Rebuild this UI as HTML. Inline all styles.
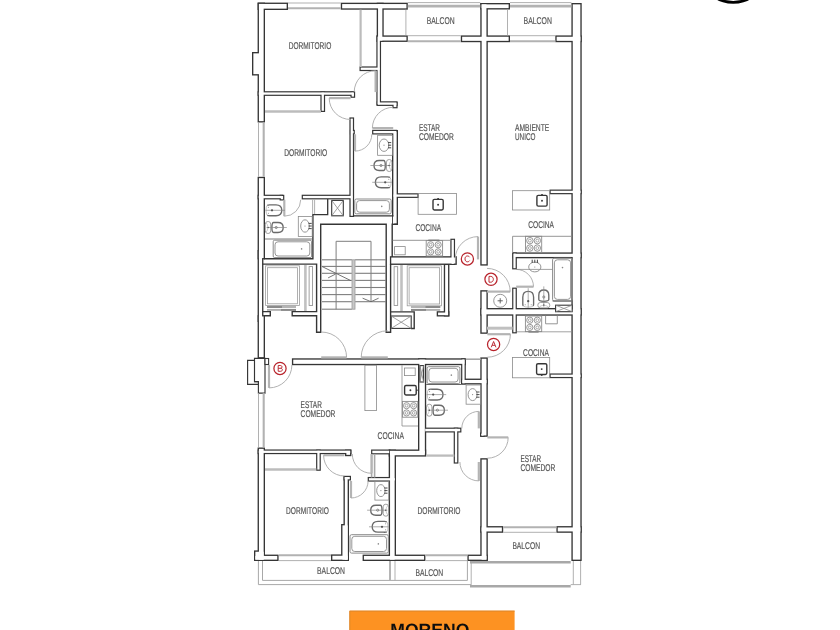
<!DOCTYPE html>
<html><head><meta charset="utf-8"><title>Plano</title>
<style>
html,body{margin:0;padding:0;background:#fff;}
body{width:840px;height:630px;overflow:hidden;font-family:"Liberation Sans",sans-serif;}
svg{display:block;}
svg text{text-rendering:geometricPrecision;}
</style></head><body>
<svg width="840" height="630" viewBox="0 0 840 630" font-family="'Liberation Sans', sans-serif">
<defs><filter id="soft" x="0" y="0" width="840" height="630" filterUnits="userSpaceOnUse"><feGaussianBlur stdDeviation="0.38"/></filter></defs>
<rect width="840" height="630" fill="#fff"/>
<g filter="url(#soft)">
<rect x="-10" y="-10" width="860" height="650" fill="#fff"/>

<g fill="#363636"><rect x="257.6" y="2.6" width="7.4" height="119.9"/><rect x="257.6" y="2.6" width="30.4" height="7.4"/><rect x="252" y="52" width="10" height="23.5"/><rect x="340.8" y="2.7" width="67" height="7"/><rect x="376.7" y="2.7" width="7" height="39.2"/><rect x="376.35" y="35.4" width="4.7" height="70.1"/><rect x="376.7" y="35.4" width="31.1" height="6.5"/><rect x="359.5" y="66.4" width="21.2" height="4.7"/><rect x="376.7" y="101.25" width="20.9" height="4.7"/><rect x="392.4" y="102" width="5.2" height="6.3"/><rect x="257.6" y="91.2" width="97.2" height="4.7"/><rect x="350.45" y="91.5" width="4.7" height="6.3"/><rect x="320.4" y="91.5" width="4.7" height="20.5"/><rect x="480.3" y="3" width="7.5" height="262.6"/><rect x="480.3" y="3" width="29.7" height="6.5"/><rect x="460.8" y="35.4" width="49.2" height="6.8"/><rect x="571.4" y="3" width="10.3" height="558"/><rect x="555.3" y="35.4" width="26.4" height="6.8"/><rect x="549.5" y="189.55" width="32.2" height="4.7"/><rect x="549.5" y="373.45" width="32.2" height="4.7"/><rect x="257.6" y="176.8" width="7.4" height="82.6"/><rect x="257.6" y="250" width="5.8" height="72"/><rect x="257.6" y="315.1" width="7.4" height="43.4"/><rect x="349.4" y="117.4" width="4.7" height="99.6"/><rect x="349.9" y="129.8" width="4.9" height="4.7"/><rect x="257.6" y="194.7" width="25.6" height="4.7"/><rect x="279.6" y="194.8" width="4.7" height="5.7"/><rect x="301.7" y="194.7" width="51.9" height="4.7"/><rect x="372.1" y="129.8" width="25.1" height="4.7"/><rect x="392" y="130" width="6" height="95"/><rect x="392.4" y="193.25" width="26.2" height="4.7"/><rect x="291.9" y="358.3" width="173.9" height="6.9"/><rect x="461.1" y="358.3" width="4.7" height="26.2"/><rect x="461.1" y="378.6" width="26.7" height="5.9"/><rect x="257.6" y="447.5" width="7.4" height="113.5"/><rect x="254" y="550.4" width="11" height="10.6"/><rect x="254" y="554.6" width="24.6" height="6.4"/><rect x="257.6" y="449.45" width="93.8" height="4.7"/><rect x="345" y="449.6" width="6.4" height="6.6"/><rect x="316.1" y="449.6" width="4.7" height="21.2"/><rect x="331" y="554.4" width="18" height="6.6"/><rect x="343.5" y="476" width="5.5" height="85"/><rect x="341.1" y="524" width="7.9" height="37"/><rect x="343.5" y="475.8" width="7.5" height="4.7"/><rect x="362.6" y="554.6" width="62.8" height="6.4"/><rect x="367.7" y="476.95" width="28.3" height="4.7"/><rect x="388.7" y="449.6" width="7.3" height="111.4"/><rect x="371.1" y="449.5" width="19.3" height="4.9"/><rect x="388.7" y="449.5" width="37.5" height="7.1"/><rect x="418" y="358.3" width="8.2" height="96.7"/><rect x="424" y="427.6" width="37.4" height="4.9"/><rect x="453.7" y="427.6" width="4.7" height="36"/><rect x="480.3" y="290.2" width="7.5" height="43.6"/><rect x="480.3" y="357.4" width="7.5" height="79.4"/><rect x="480.05" y="432.5" width="4.7" height="4.3"/><rect x="480.3" y="458.2" width="7.5" height="102.8"/><rect x="467.4" y="554.6" width="20.4" height="6.4"/><rect x="512.6" y="252.4" width="69.1" height="5.9"/><rect x="512.15" y="252.4" width="4.7" height="17"/><rect x="512.15" y="287.6" width="4.7" height="45.8"/><rect x="480.3" y="308" width="101.4" height="7.7"/><rect x="480.3" y="526.1" width="22.9" height="6.7"/><rect x="556.4" y="526.1" width="25.3" height="6.7"/><rect x="450.35" y="238.7" width="4.7" height="26.2"/><rect x="389.9" y="256.2" width="65" height="8.7"/><rect x="450.5" y="256.2" width="6.3" height="8.7"/><rect x="443.8" y="263.7" width="5.6" height="52.8"/><rect x="436.7" y="311.2" width="12.7" height="5.3"/></g>
<g fill="#fff"><rect x="258.95" y="3.95" width="4.7" height="117.2"/><rect x="258.95" y="3.95" width="27.7" height="4.7"/><rect x="253.35" y="53.35" width="7.3" height="20.8"/><rect x="342.15" y="4.05" width="64.3" height="4.3"/><rect x="378.05" y="4.05" width="4.3" height="36.5"/><rect x="377.55" y="36.6" width="2.3" height="67.7"/><rect x="378.05" y="36.75" width="28.4" height="3.8"/><rect x="360.7" y="67.6" width="18.8" height="2.3"/><rect x="377.9" y="102.45" width="18.5" height="2.3"/><rect x="393.6" y="103.2" width="2.8" height="3.9"/><rect x="258.8" y="92.4" width="94.8" height="2.3"/><rect x="351.65" y="92.7" width="2.3" height="3.9"/><rect x="321.6" y="92.7" width="2.3" height="18.1"/><rect x="481.65" y="4.35" width="4.8" height="259.9"/><rect x="481.65" y="4.35" width="27" height="3.8"/><rect x="462.15" y="36.75" width="46.5" height="4.1"/><rect x="572.75" y="4.35" width="7.6" height="555.3"/><rect x="556.65" y="36.75" width="23.7" height="4.1"/><rect x="550.7" y="190.75" width="29.8" height="2.3"/><rect x="550.7" y="374.65" width="29.8" height="2.3"/><rect x="258.95" y="178.15" width="4.7" height="79.9"/><rect x="258.95" y="251.35" width="3.1" height="69.3"/><rect x="258.95" y="316.45" width="4.7" height="40.7"/><rect x="350.6" y="118.6" width="2.3" height="97.2"/><rect x="351.1" y="131" width="2.5" height="2.3"/><rect x="258.8" y="195.9" width="23.2" height="2.3"/><rect x="280.8" y="196" width="2.3" height="3.3"/><rect x="302.9" y="195.9" width="49.5" height="2.3"/><rect x="373.3" y="131" width="22.7" height="2.3"/><rect x="393.35" y="131.35" width="3.3" height="92.3"/><rect x="393.6" y="194.45" width="23.8" height="2.3"/><rect x="293.25" y="359.65" width="171.2" height="4.2"/><rect x="462.3" y="359.5" width="2.3" height="23.8"/><rect x="462.45" y="379.95" width="24" height="3.2"/><rect x="258.95" y="448.85" width="4.7" height="110.8"/><rect x="255.35" y="551.75" width="8.3" height="7.9"/><rect x="255.35" y="555.95" width="21.9" height="3.7"/><rect x="258.8" y="450.65" width="91.4" height="2.3"/><rect x="346.35" y="450.95" width="3.7" height="3.9"/><rect x="317.3" y="450.8" width="2.3" height="18.8"/><rect x="332.35" y="555.75" width="15.3" height="3.9"/><rect x="344.85" y="477.35" width="2.8" height="82.3"/><rect x="342.45" y="525.35" width="5.2" height="34.3"/><rect x="344.7" y="477" width="5.1" height="2.3"/><rect x="363.95" y="555.95" width="60.1" height="3.7"/><rect x="368.9" y="478.15" width="25.9" height="2.3"/><rect x="390.05" y="450.95" width="4.6" height="108.7"/><rect x="372.3" y="450.7" width="16.9" height="2.5"/><rect x="390.05" y="450.85" width="34.8" height="4.4"/><rect x="419.35" y="359.65" width="5.5" height="94"/><rect x="425.2" y="428.8" width="35" height="2.5"/><rect x="454.9" y="428.8" width="2.3" height="33.6"/><rect x="481.65" y="291.55" width="4.8" height="40.9"/><rect x="481.65" y="358.75" width="4.8" height="76.7"/><rect x="481.25" y="433.7" width="2.3" height="1.9"/><rect x="481.65" y="459.55" width="4.8" height="100.1"/><rect x="468.75" y="555.95" width="17.7" height="3.7"/><rect x="513.95" y="253.75" width="66.4" height="3.2"/><rect x="513.35" y="253.6" width="2.3" height="14.6"/><rect x="513.35" y="288.8" width="2.3" height="43.4"/><rect x="481.65" y="309.35" width="98.7" height="5"/><rect x="481.65" y="527.45" width="20.2" height="4"/><rect x="557.75" y="527.45" width="22.6" height="4"/><rect x="451.55" y="239.9" width="2.3" height="23.8"/><rect x="391.25" y="257.55" width="62.3" height="6"/><rect x="451.85" y="257.55" width="3.6" height="6"/><rect x="445.15" y="265.05" width="2.9" height="50.1"/><rect x="438.05" y="312.55" width="10" height="2.6"/></g>
<polygon points="247.6,360.4 254.8,360.4 254.8,381.7 258.6,381.7 258.6,384.4 247.6,384.4" fill="#fff" stroke="#363636" stroke-width="1.15"/><polygon points="254.5,358.3 265,358.3 265,393.1 258.4,393.1 258.4,381.6 254.5,381.6" fill="#fff" stroke="#363636" stroke-width="1.15"/><rect x="265" y="358.5" width="3.6" height="6" rx="0" fill="#fff" stroke="#363636" stroke-width="1.1"/><path d="M312.9 214.6 V258.8 H264.2" fill="none" stroke="#363636" stroke-width="1.4"/><path d="M262.6 264.1 H316.6 V311.6 H292.2 V315.7 H316.6 V332.2 H320.7 V224.3 H386.2 V332.2 H390.6 V264" fill="none" stroke="#363636" stroke-width="1.4"/><path d="M392.2 257 V224.3 H397.3" fill="none" stroke="#363636" stroke-width="1.4"/><path d="M262.6 311.6 H270.3 V315.7 H264.4" fill="none" stroke="#363636" stroke-width="1.4"/><path d="M390.6 311.9 H414.2 V328.5 H411" fill="none" stroke="#363636" stroke-width="1.4"/><rect x="349.4" y="610.7" width="165.2" height="30" fill="#fd9222"/><path d="M349.8 632 V611.1 H514.6" fill="none" stroke="#d9862e" stroke-width="0.9"/><text x="390.3" y="635.7" textLength="79" lengthAdjust="spacingAndGlyphs" font-size="17.9" font-weight="bold" fill="#111">MORENO</text><circle cx="733.2" cy="-31.7" r="34.1" fill="none" stroke="#000" stroke-width="2.7"/><line x1="288" y1="3" x2="340.8" y2="3" stroke="#a8a8a8" stroke-width="0.9"/><line x1="288" y1="8.2" x2="340.8" y2="8.2" stroke="#b2b2b2" stroke-width="2.1"/><line x1="407.8" y1="2.6" x2="480.3" y2="2.6" stroke="#a8a8a8" stroke-width="0.9"/><line x1="407.8" y1="6.1" x2="480.3" y2="6.1" stroke="#b2b2b2" stroke-width="2.6"/><line x1="510" y1="2.6" x2="571.4" y2="2.6" stroke="#a8a8a8" stroke-width="0.9"/><line x1="510" y1="6.1" x2="571.4" y2="6.1" stroke="#b2b2b2" stroke-width="2.6"/><line x1="407.8" y1="35.7" x2="460.8" y2="35.7" stroke="#a8a8a8" stroke-width="0.9"/><line x1="407.8" y1="41.2" x2="460.8" y2="41.2" stroke="#b2b2b2" stroke-width="2.1"/><line x1="510" y1="35.7" x2="555.3" y2="35.7" stroke="#a8a8a8" stroke-width="0.9"/><line x1="510" y1="41.2" x2="555.3" y2="41.2" stroke="#b2b2b2" stroke-width="2.1"/><line x1="405.9" y1="9.7" x2="405.9" y2="35.4" stroke="#a8a8a8" stroke-width="0.9"/><line x1="507.5" y1="9.5" x2="507.5" y2="35.4" stroke="#a8a8a8" stroke-width="0.9"/><line x1="258.5" y1="122.5" x2="258.5" y2="176.8" stroke="#a8a8a8" stroke-width="0.9"/><line x1="263.7" y1="122.5" x2="263.7" y2="176.8" stroke="#b2b2b2" stroke-width="2.1"/><line x1="258.5" y1="393.1" x2="258.5" y2="447.5" stroke="#a8a8a8" stroke-width="0.9"/><line x1="263.7" y1="393.1" x2="263.7" y2="447.5" stroke="#b2b2b2" stroke-width="2.1"/><line x1="279" y1="560.6" x2="331" y2="560.6" stroke="#a8a8a8" stroke-width="0.9"/><line x1="279" y1="555.3" x2="331" y2="555.3" stroke="#b2b2b2" stroke-width="2.1"/><line x1="425.4" y1="560.6" x2="467.4" y2="560.6" stroke="#a8a8a8" stroke-width="0.9"/><line x1="425.4" y1="555.3" x2="467.4" y2="555.3" stroke="#b2b2b2" stroke-width="2.1"/><line x1="503.2" y1="532.3" x2="556.4" y2="532.3" stroke="#a8a8a8" stroke-width="0.9"/><line x1="503.2" y1="527.2" x2="556.4" y2="527.2" stroke="#b2b2b2" stroke-width="2.1"/><line x1="371.6" y1="454.4" x2="371.6" y2="477.5" stroke="#a8a8a8" stroke-width="1.6"/><line x1="374.6" y1="454.4" x2="374.6" y2="477.5" stroke="#a8a8a8" stroke-width="1.6"/><line x1="360.6" y1="9.7" x2="360.6" y2="67" stroke="#bcbcbc" stroke-width="2.2"/><line x1="265" y1="111.5" x2="321" y2="111.5" stroke="#bcbcbc" stroke-width="2.3"/><line x1="265" y1="469.5" x2="316.3" y2="469.5" stroke="#bcbcbc" stroke-width="2.3"/><line x1="426.2" y1="455.6" x2="454.3" y2="455.6" stroke="#bcbcbc" stroke-width="2.3"/><path d="M258.4 561 V584.6 H471" fill="none" stroke="#a8a8a8" stroke-width="1"/><path d="M262.5 561 V580.4 H467.4 V561" fill="none" stroke="#a8a8a8" stroke-width="1"/><line x1="390" y1="561" x2="390" y2="580.4" stroke="#b2b2b2" stroke-width="1.9"/><line x1="395" y1="561" x2="395" y2="580.4" stroke="#a8a8a8" stroke-width="0.9"/><line x1="470" y1="562.3" x2="570.7" y2="562.3" stroke="#a8a8a8" stroke-width="2.4"/><line x1="470" y1="586.3" x2="570.7" y2="586.3" stroke="#a8a8a8" stroke-width="2.4"/><line x1="471.2" y1="563" x2="471.2" y2="586" stroke="#a8a8a8" stroke-width="0.9"/><line x1="573.3" y1="561" x2="573.3" y2="584.6" stroke="#a8a8a8" stroke-width="0.9"/><line x1="580.6" y1="561" x2="580.6" y2="584.6" stroke="#a8a8a8" stroke-width="0.9"/><line x1="570.7" y1="584.6" x2="581" y2="584.6" stroke="#a8a8a8" stroke-width="0.9"/><line x1="375.6" y1="92.1" x2="375.6" y2="70.7" stroke="#b4b4b4" stroke-width="2.2"/><path d="M375.6 70.7 A21.4 21.4 0 0 0 354.2 92.1" fill="none" stroke="#a8a8a8" stroke-width="0.9"/><line x1="350.6" y1="98.1" x2="329.2" y2="98.1" stroke="#b4b4b4" stroke-width="2.2"/><path d="M329.2 98.1 A21.4 21.4 0 0 0 350.6 119.5" fill="none" stroke="#a8a8a8" stroke-width="0.9"/><line x1="393.2" y1="128.1" x2="372.4" y2="128.1" stroke="#b4b4b4" stroke-width="2.2"/><path d="M372.4 128.1 A20.8 20.8 0 0 1 393.2 107.3" fill="none" stroke="#a8a8a8" stroke-width="0.9"/><line x1="355" y1="134.3" x2="355" y2="151.1" stroke="#b4b4b4" stroke-width="2.2"/><path d="M355 151.1 A16.8 16.8 0 0 0 371.8 134.3" fill="none" stroke="#a8a8a8" stroke-width="0.9"/><line x1="284.3" y1="199.8" x2="284.3" y2="216.2" stroke="#b4b4b4" stroke-width="2.2"/><path d="M284.3 216.2 A16.4 16.4 0 0 0 300.7 199.8" fill="none" stroke="#a8a8a8" stroke-width="0.9"/><line x1="321.2" y1="357.4" x2="346.6" y2="357.4" stroke="#b4b4b4" stroke-width="2.2"/><path d="M346.6 357.4 A25.4 25.4 0 0 0 321.2 332" fill="none" stroke="#a8a8a8" stroke-width="0.9"/><line x1="387.8" y1="357.4" x2="361.2" y2="357.4" stroke="#b4b4b4" stroke-width="2.2"/><path d="M361.2 357.4 A26.6 26.6 0 0 1 387.8 330.8" fill="none" stroke="#a8a8a8" stroke-width="0.9"/><line x1="478" y1="259.4" x2="478" y2="236.6" stroke="#b4b4b4" stroke-width="2.2"/><path d="M478 236.6 A22.8 22.8 0 0 0 455.2 259.4" fill="none" stroke="#a8a8a8" stroke-width="0.9"/><line x1="487" y1="291.6" x2="510.2" y2="291.6" stroke="#b4b4b4" stroke-width="2.2"/><path d="M510.2 291.6 A23.2 23.2 0 0 0 487 268.4" fill="none" stroke="#a8a8a8" stroke-width="0.9"/><line x1="516.2" y1="286.7" x2="533.5" y2="286.7" stroke="#b4b4b4" stroke-width="2.2"/><path d="M533.5 286.7 A17.3 17.3 0 0 0 516.2 269.4" fill="none" stroke="#a8a8a8" stroke-width="0.9"/><line x1="487.4" y1="334.2" x2="510.4" y2="334.2" stroke="#b4b4b4" stroke-width="2.2"/><path d="M510.4 334.2 A23 23 0 0 1 487.4 357.2" fill="none" stroke="#a8a8a8" stroke-width="0.9"/><line x1="269" y1="365" x2="269" y2="387.9" stroke="#b4b4b4" stroke-width="2.2"/><path d="M269 387.9 A22.9 22.9 0 0 0 291.9 365" fill="none" stroke="#a8a8a8" stroke-width="0.9"/><line x1="344.4" y1="455.2" x2="323.6" y2="455.2" stroke="#b4b4b4" stroke-width="2.2"/><path d="M323.6 455.2 A20.8 20.8 0 0 0 344.4 476" fill="none" stroke="#a8a8a8" stroke-width="0.9"/><line x1="371.6" y1="454" x2="371.6" y2="473.3" stroke="#b4b4b4" stroke-width="2.2"/><path d="M371.6 473.3 A19.3 19.3 0 0 1 352.3 454" fill="none" stroke="#a8a8a8" stroke-width="0.9"/><line x1="351" y1="480.9" x2="351" y2="498" stroke="#b4b4b4" stroke-width="2.2"/><path d="M351 498 A17.1 17.1 0 0 0 368.1 480.9" fill="none" stroke="#a8a8a8" stroke-width="0.9"/><line x1="478.8" y1="428.4" x2="478.8" y2="411.4" stroke="#b4b4b4" stroke-width="2.2"/><path d="M478.8 411.4 A17 17 0 0 0 461.8 428.4" fill="none" stroke="#a8a8a8" stroke-width="0.9"/><line x1="487.4" y1="437.4" x2="508.2" y2="437.4" stroke="#b4b4b4" stroke-width="2.2"/><path d="M508.2 437.4 A20.8 20.8 0 0 1 487.4 458.2" fill="none" stroke="#a8a8a8" stroke-width="0.9"/><line x1="478.8" y1="462" x2="478.8" y2="480.9" stroke="#b4b4b4" stroke-width="2.2"/><path d="M478.8 480.9 A18.9 18.9 0 0 1 459.9 462" fill="none" stroke="#a8a8a8" stroke-width="0.9"/><line x1="322" y1="259.8" x2="351.9" y2="259.8" stroke="#7e7e7e" stroke-width="1.1"/><line x1="322" y1="266.4" x2="351.9" y2="266.4" stroke="#7e7e7e" stroke-width="1.1"/><line x1="322" y1="273.3" x2="351.9" y2="273.3" stroke="#7e7e7e" stroke-width="1.1"/><line x1="322" y1="280.4" x2="351.9" y2="280.4" stroke="#7e7e7e" stroke-width="1.1"/><line x1="322" y1="287.5" x2="351.9" y2="287.5" stroke="#7e7e7e" stroke-width="1.1"/><line x1="322" y1="294.6" x2="351.9" y2="294.6" stroke="#7e7e7e" stroke-width="1.1"/><line x1="322" y1="301.7" x2="351.9" y2="301.7" stroke="#7e7e7e" stroke-width="1.1"/><line x1="322" y1="309.2" x2="351.9" y2="309.2" stroke="#7e7e7e" stroke-width="1.1"/><line x1="355.1" y1="259.8" x2="386" y2="259.8" stroke="#7e7e7e" stroke-width="1.1"/><line x1="355.1" y1="266.4" x2="386" y2="266.4" stroke="#7e7e7e" stroke-width="1.1"/><line x1="355.1" y1="273.3" x2="386" y2="273.3" stroke="#7e7e7e" stroke-width="1.1"/><line x1="355.1" y1="280.4" x2="386" y2="280.4" stroke="#7e7e7e" stroke-width="1.1"/><line x1="355.1" y1="287.5" x2="386" y2="287.5" stroke="#7e7e7e" stroke-width="1.1"/><line x1="355.1" y1="294.6" x2="386" y2="294.6" stroke="#7e7e7e" stroke-width="1.1"/><line x1="355.1" y1="301.7" x2="386" y2="301.7" stroke="#7e7e7e" stroke-width="1.1"/><rect x="352" y="259.8" width="3" height="49.4" rx="0" fill="#c8c8c8" stroke="#9a9a9a" stroke-width="0.8"/><path d="M336.1 309.3 V241.3 H371 V301.5" fill="none" stroke="#7e7e7e" stroke-width="1"/><path d="M362.6 298.2 L371 301.7 L378.6 298.2" fill="none" stroke="#666" stroke-width="0.9"/><line x1="321.8" y1="266.4" x2="351" y2="280.7" stroke="#666" stroke-width="0.9"/><line x1="328.1" y1="277.9" x2="335.7" y2="274" stroke="#666" stroke-width="0.9"/><rect x="265.6" y="265.8" width="33.8" height="39.8" rx="0" fill="none" stroke="#9c9c9c" stroke-width="0.8"/><rect x="267.5" y="267.7" width="30" height="36.1" rx="0" fill="none" stroke="#9c9c9c" stroke-width="0.8"/><line x1="305.4" y1="265" x2="305.4" y2="311" stroke="#c0c0c0" stroke-width="2.6"/><rect x="309.1" y="266.6" width="3.5" height="38.9" rx="0" fill="none" stroke="#8a8a8a" stroke-width="0.8"/><line x1="267" y1="307" x2="296" y2="307" stroke="#b0b0b0" stroke-width="1.9"/><line x1="267" y1="309.9" x2="296" y2="309.9" stroke="#b0b0b0" stroke-width="1.9"/><line x1="267" y1="307" x2="282" y2="307" stroke="#8a8a8a" stroke-width="1.9"/><line x1="281" y1="309.9" x2="296" y2="309.9" stroke="#8a8a8a" stroke-width="1.9"/><rect x="407.2" y="265.8" width="34.3" height="40" rx="0" fill="none" stroke="#9c9c9c" stroke-width="0.8"/><rect x="409.1" y="267.7" width="30.5" height="36.3" rx="0" fill="none" stroke="#9c9c9c" stroke-width="0.8"/><line x1="401.5" y1="265" x2="401.5" y2="311" stroke="#c0c0c0" stroke-width="2.6"/><rect x="394.1" y="266.7" width="3.6" height="38.8" rx="0" fill="none" stroke="#8a8a8a" stroke-width="0.8"/><line x1="411" y1="307" x2="440.2" y2="307" stroke="#b0b0b0" stroke-width="1.9"/><line x1="411" y1="309.9" x2="440.2" y2="309.9" stroke="#b0b0b0" stroke-width="1.9"/><line x1="425.5" y1="307" x2="440.2" y2="307" stroke="#8a8a8a" stroke-width="1.9"/><line x1="411" y1="309.9" x2="426" y2="309.9" stroke="#8a8a8a" stroke-width="1.9"/><line x1="353" y1="215.9" x2="393.4" y2="215.9" stroke="#363636" stroke-width="1.4"/><rect x="392.9" y="216.7" width="1.3" height="6.8" rx="0" fill="#fff" stroke="#fff" stroke-width="0"/><rect x="331.7" y="200.4" width="11.6" height="15.4" rx="0" fill="#fff" stroke="#363636" stroke-width="1.1"/><line x1="331.7" y1="200.4" x2="343.3" y2="215.8" stroke="#8a8a8a" stroke-width="0.8"/><line x1="331.7" y1="215.8" x2="343.3" y2="200.4" stroke="#8a8a8a" stroke-width="0.8"/><path d="M327.7 199 V214.7 H312.4" fill="none" stroke="#363636" stroke-width="1.3"/><line x1="312.6" y1="199.5" x2="312.6" y2="214" stroke="#a8a8a8" stroke-width="0.9"/><line x1="314.6" y1="199.5" x2="314.6" y2="214" stroke="#a8a8a8" stroke-width="0.9"/><rect x="391.2" y="316" width="20" height="12.4" rx="0" fill="#fff" stroke="#363636" stroke-width="1.1"/><line x1="391.2" y1="316" x2="411.2" y2="328.4" stroke="#8a8a8a" stroke-width="0.8"/><line x1="391.2" y1="328.4" x2="411.2" y2="316" stroke="#8a8a8a" stroke-width="0.8"/><rect x="555.6" y="305.2" width="16.6" height="6.5" rx="0" fill="#fff" stroke="#363636" stroke-width="1.1"/><line x1="555.6" y1="305.2" x2="572.2" y2="311.7" stroke="#8a8a8a" stroke-width="0.8"/><line x1="555.6" y1="311.7" x2="572.2" y2="305.2" stroke="#8a8a8a" stroke-width="0.8"/><rect x="419.9" y="365.6" width="3.7" height="16.4" rx="0" fill="#fff" stroke="#363636" stroke-width="1.1"/><line x1="419.9" y1="365.6" x2="423.6" y2="382" stroke="#8a8a8a" stroke-width="0.8"/><line x1="419.9" y1="382" x2="423.6" y2="365.6" stroke="#8a8a8a" stroke-width="0.8"/><rect x="377.6" y="135.3" width="14.8" height="20" rx="0" fill="none" stroke="#8a8a8a" stroke-width="0.8"/><ellipse cx="384" cy="145.2" rx="4.8" ry="6.2" fill="none" stroke="#8a8a8a" stroke-width="0.9"/><circle cx="384" cy="145.2" r="0.6" fill="#8a8a8a"/><line x1="388" y1="142.6" x2="391.2" y2="142.6" stroke="#363636" stroke-width="0.9"/><line x1="388" y1="145.2" x2="391.2" y2="145.2" stroke="#363636" stroke-width="0.9"/><line x1="388" y1="147.8" x2="391.2" y2="147.8" stroke="#363636" stroke-width="0.9"/><g transform="translate(392.2 165.5) rotate(180)"><rect x="0.3" y="-6" width="5.4" height="12" rx="2.6" fill="none" stroke="#8a8a8a" stroke-width="0.8"/><path d="M1 -4.4 C3.4 -3.4 3.4 3.4 1 4.4" fill="none" stroke="#a8a8a8" stroke-width="0.6"/><path d="M8.6 -5 H13 C16.6 -5 18.2 -2.6 18.2 0 C18.2 2.6 16.6 5 13 5 H8.6 C7.2 5 6.9 3 6.9 0 C6.9 -3 7.2 -5 8.6 -5 Z" fill="none" stroke="#6a6a6a" stroke-width="1.35"/><line x1="1.5" y1="0" x2="21.8" y2="0" stroke="#8a8a8a" stroke-width="0.7"/><circle cx="11.2" cy="0" r="1.1" fill="none" stroke="#6a6a6a" stroke-width="0.7"/><circle cx="3.2" cy="0" r="0.7" fill="#555"/></g><g transform="translate(392.2 182.3) rotate(180)"><path d="M2.2 -5 C3.4 -5.6 4.4 -5.4 5.6 -5.4 H11 C15 -5.4 16.8 -2.8 16.8 0 C16.8 2.8 15 5.4 11 5.4 H5.6 C4.4 5.4 3.4 5.6 2.2 5" fill="none" stroke="#6a6a6a" stroke-width="1.35"/><path d="M2.2 -5 C0.6 -3 0.6 3 2.2 5" fill="none" stroke="#a8a8a8" stroke-width="0.7"/><line x1="0.5" y1="0" x2="20" y2="0" stroke="#8a8a8a" stroke-width="0.7"/><circle cx="7" cy="0" r="1.15" fill="#555"/><circle cx="3.4" cy="-3" r="0.55" fill="#8a8a8a"/><circle cx="3.4" cy="3" r="0.55" fill="#8a8a8a"/></g><rect x="354.8" y="199" width="36.4" height="14.8" rx="1.5" fill="none" stroke="#8a8a8a" stroke-width="1"/><rect x="356.6" y="200.6" width="32.8" height="11.6" rx="3" fill="none" stroke="#8a8a8a" stroke-width="0.9"/><circle cx="381.74" cy="206.4" r="0.8" fill="#8a8a8a"/><g transform="translate(265 210.3) rotate(0)"><path d="M2.2 -5 C3.4 -5.6 4.4 -5.4 5.6 -5.4 H11 C15 -5.4 16.8 -2.8 16.8 0 C16.8 2.8 15 5.4 11 5.4 H5.6 C4.4 5.4 3.4 5.6 2.2 5" fill="none" stroke="#6a6a6a" stroke-width="1.35"/><path d="M2.2 -5 C0.6 -3 0.6 3 2.2 5" fill="none" stroke="#a8a8a8" stroke-width="0.7"/><line x1="0.5" y1="0" x2="20" y2="0" stroke="#8a8a8a" stroke-width="0.7"/><circle cx="7" cy="0" r="1.15" fill="#555"/><circle cx="3.4" cy="-3" r="0.55" fill="#8a8a8a"/><circle cx="3.4" cy="3" r="0.55" fill="#8a8a8a"/></g><g transform="translate(265 227.5) rotate(0)"><rect x="0.3" y="-6" width="5.4" height="12" rx="2.6" fill="none" stroke="#8a8a8a" stroke-width="0.8"/><path d="M1 -4.4 C3.4 -3.4 3.4 3.4 1 4.4" fill="none" stroke="#a8a8a8" stroke-width="0.6"/><path d="M8.6 -5 H13 C16.6 -5 18.2 -2.6 18.2 0 C18.2 2.6 16.6 5 13 5 H8.6 C7.2 5 6.9 3 6.9 0 C6.9 -3 7.2 -5 8.6 -5 Z" fill="none" stroke="#6a6a6a" stroke-width="1.35"/><line x1="1.5" y1="0" x2="21.8" y2="0" stroke="#8a8a8a" stroke-width="0.7"/><circle cx="11.2" cy="0" r="1.1" fill="none" stroke="#6a6a6a" stroke-width="0.7"/><circle cx="3.2" cy="0" r="0.7" fill="#555"/></g><rect x="298.3" y="216.4" width="13.9" height="20" rx="0" fill="none" stroke="#8a8a8a" stroke-width="0.8"/><ellipse cx="305" cy="226" rx="4.3" ry="6.2" fill="none" stroke="#8a8a8a" stroke-width="0.9"/><circle cx="305" cy="226" r="0.6" fill="#8a8a8a"/><line x1="308.5" y1="223.4" x2="311.7" y2="223.4" stroke="#363636" stroke-width="0.9"/><line x1="308.5" y1="226" x2="311.7" y2="226" stroke="#363636" stroke-width="0.9"/><line x1="308.5" y1="228.6" x2="311.7" y2="228.6" stroke="#363636" stroke-width="0.9"/><line x1="265" y1="239" x2="312" y2="239" stroke="#a8a8a8" stroke-width="1.5"/><rect x="273.2" y="240.2" width="38.4" height="17.4" rx="1.5" fill="none" stroke="#8a8a8a" stroke-width="1"/><rect x="275" y="241.8" width="34.8" height="14.2" rx="3" fill="none" stroke="#8a8a8a" stroke-width="0.9"/><circle cx="301.62" cy="248.9" r="0.8" fill="#8a8a8a"/><ellipse cx="534.8" cy="267" rx="6.1" ry="4.9" fill="none" stroke="#8a8a8a" stroke-width="0.9"/><circle cx="534.8" cy="267" r="0.6" fill="#8a8a8a"/><line x1="532.2" y1="262.9" x2="532.2" y2="259.7" stroke="#363636" stroke-width="0.9"/><line x1="534.8" y1="262.9" x2="534.8" y2="259.7" stroke="#363636" stroke-width="0.9"/><line x1="537.4" y1="262.9" x2="537.4" y2="259.7" stroke="#363636" stroke-width="0.9"/><line x1="516.2" y1="269.4" x2="552.6" y2="269.4" stroke="#8a8a8a" stroke-width="0.8"/><rect x="552.6" y="258.2" width="19.8" height="42.8" rx="1.5" fill="none" stroke="#8a8a8a" stroke-width="1"/><rect x="554.4" y="259.8" width="16.2" height="39.6" rx="3" fill="none" stroke="#8a8a8a" stroke-width="0.9"/><circle cx="562.5" cy="267.62" r="0.8" fill="#8a8a8a"/><line x1="552.6" y1="301" x2="572.4" y2="301" stroke="#666" stroke-width="1.1"/><g transform="translate(528.2 308.2) rotate(270)"><path d="M2.2 -5 C3.4 -5.6 4.4 -5.4 5.6 -5.4 H11 C15 -5.4 16.8 -2.8 16.8 0 C16.8 2.8 15 5.4 11 5.4 H5.6 C4.4 5.4 3.4 5.6 2.2 5" fill="none" stroke="#6a6a6a" stroke-width="1.35"/><path d="M2.2 -5 C0.6 -3 0.6 3 2.2 5" fill="none" stroke="#a8a8a8" stroke-width="0.7"/><line x1="0.5" y1="0" x2="20" y2="0" stroke="#8a8a8a" stroke-width="0.7"/><circle cx="7" cy="0" r="1.15" fill="#555"/><circle cx="3.4" cy="-3" r="0.55" fill="#8a8a8a"/><circle cx="3.4" cy="3" r="0.55" fill="#8a8a8a"/></g><g transform="translate(543.8 308.2) rotate(270)"><rect x="0.3" y="-6" width="5.4" height="12" rx="2.6" fill="none" stroke="#8a8a8a" stroke-width="0.8"/><path d="M1 -4.4 C3.4 -3.4 3.4 3.4 1 4.4" fill="none" stroke="#a8a8a8" stroke-width="0.6"/><path d="M8.6 -5 H13 C16.6 -5 18.2 -2.6 18.2 0 C18.2 2.6 16.6 5 13 5 H8.6 C7.2 5 6.9 3 6.9 0 C6.9 -3 7.2 -5 8.6 -5 Z" fill="none" stroke="#6a6a6a" stroke-width="1.35"/><line x1="1.5" y1="0" x2="21.8" y2="0" stroke="#8a8a8a" stroke-width="0.7"/><circle cx="11.2" cy="0" r="1.1" fill="none" stroke="#6a6a6a" stroke-width="0.7"/><circle cx="3.2" cy="0" r="0.7" fill="#555"/></g><line x1="465.8" y1="359.2" x2="480.7" y2="359.2" stroke="#a8a8a8" stroke-width="1.6"/><rect x="427.1" y="366.7" width="32.8" height="16.9" rx="1.5" fill="none" stroke="#8a8a8a" stroke-width="1"/><rect x="428.9" y="368.3" width="29.2" height="13.7" rx="3" fill="none" stroke="#8a8a8a" stroke-width="0.9"/><circle cx="451.37" cy="375.15" r="0.8" fill="#8a8a8a"/><line x1="426.2" y1="384.5" x2="461.1" y2="384.5" stroke="#666" stroke-width="1"/><g transform="translate(426.2 394.6) rotate(0)"><path d="M2.2 -5 C3.4 -5.6 4.4 -5.4 5.6 -5.4 H11 C15 -5.4 16.8 -2.8 16.8 0 C16.8 2.8 15 5.4 11 5.4 H5.6 C4.4 5.4 3.4 5.6 2.2 5" fill="none" stroke="#6a6a6a" stroke-width="1.35"/><path d="M2.2 -5 C0.6 -3 0.6 3 2.2 5" fill="none" stroke="#a8a8a8" stroke-width="0.7"/><line x1="0.5" y1="0" x2="20" y2="0" stroke="#8a8a8a" stroke-width="0.7"/><circle cx="7" cy="0" r="1.15" fill="#555"/><circle cx="3.4" cy="-3" r="0.55" fill="#8a8a8a"/><circle cx="3.4" cy="3" r="0.55" fill="#8a8a8a"/></g><g transform="translate(426.2 410.2) rotate(0)"><rect x="0.3" y="-6" width="5.4" height="12" rx="2.6" fill="none" stroke="#8a8a8a" stroke-width="0.8"/><path d="M1 -4.4 C3.4 -3.4 3.4 3.4 1 4.4" fill="none" stroke="#a8a8a8" stroke-width="0.6"/><path d="M8.6 -5 H13 C16.6 -5 18.2 -2.6 18.2 0 C18.2 2.6 16.6 5 13 5 H8.6 C7.2 5 6.9 3 6.9 0 C6.9 -3 7.2 -5 8.6 -5 Z" fill="none" stroke="#6a6a6a" stroke-width="1.35"/><line x1="1.5" y1="0" x2="21.8" y2="0" stroke="#8a8a8a" stroke-width="0.7"/><circle cx="11.2" cy="0" r="1.1" fill="none" stroke="#6a6a6a" stroke-width="0.7"/><circle cx="3.2" cy="0" r="0.7" fill="#555"/></g><rect x="466.1" y="385" width="14.4" height="19.2" rx="0" fill="none" stroke="#8a8a8a" stroke-width="0.8"/><ellipse cx="472.6" cy="394.6" rx="4.5" ry="6" fill="none" stroke="#8a8a8a" stroke-width="0.9"/><circle cx="472.6" cy="394.6" r="0.6" fill="#8a8a8a"/><line x1="476.3" y1="392" x2="479.5" y2="392" stroke="#363636" stroke-width="0.9"/><line x1="476.3" y1="394.6" x2="479.5" y2="394.6" stroke="#363636" stroke-width="0.9"/><line x1="476.3" y1="397.2" x2="479.5" y2="397.2" stroke="#363636" stroke-width="0.9"/><rect x="374.9" y="481.4" width="14" height="18.7" rx="0" fill="none" stroke="#8a8a8a" stroke-width="0.8"/><ellipse cx="380.9" cy="490.6" rx="4.2" ry="6" fill="none" stroke="#8a8a8a" stroke-width="0.9"/><circle cx="380.9" cy="490.6" r="0.6" fill="#8a8a8a"/><line x1="384.3" y1="488" x2="387.5" y2="488" stroke="#363636" stroke-width="0.9"/><line x1="384.3" y1="490.6" x2="387.5" y2="490.6" stroke="#363636" stroke-width="0.9"/><line x1="384.3" y1="493.2" x2="387.5" y2="493.2" stroke="#363636" stroke-width="0.9"/><g transform="translate(388.9 510.2) rotate(180)"><rect x="0.3" y="-6" width="5.4" height="12" rx="2.6" fill="none" stroke="#8a8a8a" stroke-width="0.8"/><path d="M1 -4.4 C3.4 -3.4 3.4 3.4 1 4.4" fill="none" stroke="#a8a8a8" stroke-width="0.6"/><path d="M8.6 -5 H13 C16.6 -5 18.2 -2.6 18.2 0 C18.2 2.6 16.6 5 13 5 H8.6 C7.2 5 6.9 3 6.9 0 C6.9 -3 7.2 -5 8.6 -5 Z" fill="none" stroke="#6a6a6a" stroke-width="1.35"/><line x1="1.5" y1="0" x2="21.8" y2="0" stroke="#8a8a8a" stroke-width="0.7"/><circle cx="11.2" cy="0" r="1.1" fill="none" stroke="#6a6a6a" stroke-width="0.7"/><circle cx="3.2" cy="0" r="0.7" fill="#555"/></g><g transform="translate(389 526.8) rotate(180)"><path d="M2.2 -5 C3.4 -5.6 4.4 -5.4 5.6 -5.4 H11 C15 -5.4 16.8 -2.8 16.8 0 C16.8 2.8 15 5.4 11 5.4 H5.6 C4.4 5.4 3.4 5.6 2.2 5" fill="none" stroke="#6a6a6a" stroke-width="1.35"/><path d="M2.2 -5 C0.6 -3 0.6 3 2.2 5" fill="none" stroke="#a8a8a8" stroke-width="0.7"/><line x1="0.5" y1="0" x2="20" y2="0" stroke="#8a8a8a" stroke-width="0.7"/><circle cx="7" cy="0" r="1.15" fill="#555"/><circle cx="3.4" cy="-3" r="0.55" fill="#8a8a8a"/><circle cx="3.4" cy="3" r="0.55" fill="#8a8a8a"/></g><rect x="350" y="534.7" width="38.3" height="18.4" rx="1.5" fill="none" stroke="#8a8a8a" stroke-width="1"/><rect x="351.8" y="536.3" width="34.7" height="15.2" rx="3" fill="none" stroke="#8a8a8a" stroke-width="0.9"/><circle cx="378.34" cy="543.9" r="0.8" fill="#8a8a8a"/><circle cx="500.2" cy="300.8" r="6.5" fill="none" stroke="#8a8a8a" stroke-width="0.9"/><line x1="497.6" y1="300.8" x2="502.8" y2="300.8" stroke="#555" stroke-width="0.9"/><line x1="500.2" y1="298.2" x2="500.2" y2="303.4" stroke="#555" stroke-width="0.9"/><line x1="487" y1="328.2" x2="512.6" y2="328.2" stroke="#c0c0c0" stroke-width="3"/><rect x="418.1" y="193.5" width="38.4" height="20.8" rx="0" fill="none" stroke="#8a8a8a" stroke-width="0.8"/><rect x="433" y="199.4" width="10.2" height="10.6" rx="1.4" fill="none" stroke="#363636" stroke-width="1.4"/><circle cx="438.1" cy="204.7" r="0.95" fill="#363636"/><line x1="438.1" y1="198" x2="438.1" y2="199.4" stroke="#363636" stroke-width="1.6"/><path d="M392.6 240.3 H450.7" fill="none" stroke="#8a8a8a" stroke-width="0.9"/><rect x="426.2" y="240.6" width="16.4" height="15.4" rx="0" fill="none" stroke="#8a8a8a" stroke-width="0.9"/><circle cx="430.63" cy="244.76" r="3.08" fill="none" stroke="#8a8a8a" stroke-width="0.9"/><circle cx="430.63" cy="244.76" r="1.39" fill="none" stroke="#8a8a8a" stroke-width="0.7"/><circle cx="430.63" cy="251.84" r="3.08" fill="none" stroke="#8a8a8a" stroke-width="0.9"/><circle cx="430.63" cy="251.84" r="1.39" fill="none" stroke="#8a8a8a" stroke-width="0.7"/><circle cx="438.17" cy="244.76" r="3.08" fill="none" stroke="#8a8a8a" stroke-width="0.9"/><circle cx="438.17" cy="244.76" r="1.39" fill="none" stroke="#8a8a8a" stroke-width="0.7"/><circle cx="438.17" cy="251.84" r="3.08" fill="none" stroke="#8a8a8a" stroke-width="0.9"/><circle cx="438.17" cy="251.84" r="1.39" fill="none" stroke="#8a8a8a" stroke-width="0.7"/><line x1="428.3" y1="240.2" x2="439.4" y2="240.2" stroke="#777" stroke-width="1.2"/><rect x="394.6" y="246.6" width="10.6" height="8.2" rx="0" fill="none" stroke="#8a8a8a" stroke-width="0.8"/><rect x="512.4" y="190.7" width="37.3" height="19.3" rx="0" fill="none" stroke="#8a8a8a" stroke-width="0.8"/><rect x="536.9" y="195.4" width="10.2" height="10.7" rx="1.4" fill="none" stroke="#363636" stroke-width="1.4"/><circle cx="542" cy="200.75" r="0.95" fill="#363636"/><line x1="542" y1="194" x2="542" y2="195.4" stroke="#363636" stroke-width="1.6"/><path d="M512.6 252.6 V236.3 H572" fill="none" stroke="#8a8a8a" stroke-width="0.9"/><rect x="525.5" y="236.3" width="16.2" height="16.1" rx="0" fill="none" stroke="#8a8a8a" stroke-width="0.9"/><circle cx="529.87" cy="240.65" r="3.22" fill="none" stroke="#8a8a8a" stroke-width="0.9"/><circle cx="529.87" cy="240.65" r="1.45" fill="none" stroke="#8a8a8a" stroke-width="0.7"/><circle cx="529.87" cy="248.05" r="3.22" fill="none" stroke="#8a8a8a" stroke-width="0.9"/><circle cx="529.87" cy="248.05" r="1.45" fill="none" stroke="#8a8a8a" stroke-width="0.7"/><circle cx="537.33" cy="240.65" r="3.22" fill="none" stroke="#8a8a8a" stroke-width="0.9"/><circle cx="537.33" cy="240.65" r="1.45" fill="none" stroke="#8a8a8a" stroke-width="0.7"/><circle cx="537.33" cy="248.05" r="3.22" fill="none" stroke="#8a8a8a" stroke-width="0.9"/><circle cx="537.33" cy="248.05" r="1.45" fill="none" stroke="#8a8a8a" stroke-width="0.7"/><rect x="525.4" y="316" width="16.3" height="15.6" rx="0" fill="none" stroke="#8a8a8a" stroke-width="0.9"/><circle cx="529.8" cy="320.21" r="3.12" fill="none" stroke="#8a8a8a" stroke-width="0.9"/><circle cx="529.8" cy="320.21" r="1.4" fill="none" stroke="#8a8a8a" stroke-width="0.7"/><circle cx="529.8" cy="327.39" r="3.12" fill="none" stroke="#8a8a8a" stroke-width="0.9"/><circle cx="529.8" cy="327.39" r="1.4" fill="none" stroke="#8a8a8a" stroke-width="0.7"/><circle cx="537.3" cy="320.21" r="3.12" fill="none" stroke="#8a8a8a" stroke-width="0.9"/><circle cx="537.3" cy="320.21" r="1.4" fill="none" stroke="#8a8a8a" stroke-width="0.7"/><circle cx="537.3" cy="327.39" r="3.12" fill="none" stroke="#8a8a8a" stroke-width="0.9"/><circle cx="537.3" cy="327.39" r="1.4" fill="none" stroke="#8a8a8a" stroke-width="0.7"/><line x1="528.4" y1="332" x2="538.6" y2="332" stroke="#777" stroke-width="1.2"/><line x1="516.5" y1="331.8" x2="572.2" y2="331.8" stroke="#8a8a8a" stroke-width="0.8"/><path d="M545.6 315.7 V323.8 H557.3 V315.7" fill="none" stroke="#8a8a8a" stroke-width="0.9"/><rect x="512.4" y="357.5" width="37.3" height="20.3" rx="0" fill="none" stroke="#8a8a8a" stroke-width="0.8"/><rect x="536.6" y="363.7" width="10.2" height="10.8" rx="1.4" fill="none" stroke="#363636" stroke-width="1.4"/><circle cx="541.7" cy="369.1" r="0.95" fill="#363636"/><line x1="541.7" y1="374.5" x2="541.7" y2="375.9" stroke="#363636" stroke-width="1.6"/><line x1="402" y1="365.2" x2="402" y2="426" stroke="#8a8a8a" stroke-width="0.8"/><line x1="402" y1="426" x2="418" y2="426" stroke="#8a8a8a" stroke-width="0.8"/><rect x="404.5" y="368" width="10.7" height="7.6" rx="0" fill="none" stroke="#8a8a8a" stroke-width="0.8"/><rect x="404.6" y="385.5" width="11.6" height="9.5" rx="1.4" fill="none" stroke="#363636" stroke-width="1.4"/><circle cx="410.4" cy="390.25" r="0.95" fill="#363636"/><line x1="416.2" y1="390.25" x2="417.6" y2="390.25" stroke="#363636" stroke-width="1.6"/><rect x="402.4" y="401.4" width="15.4" height="15.8" rx="0" fill="none" stroke="#8a8a8a" stroke-width="0.9"/><circle cx="406.56" cy="405.67" r="3.08" fill="none" stroke="#8a8a8a" stroke-width="0.9"/><circle cx="406.56" cy="405.67" r="1.39" fill="none" stroke="#8a8a8a" stroke-width="0.7"/><circle cx="406.56" cy="412.93" r="3.08" fill="none" stroke="#8a8a8a" stroke-width="0.9"/><circle cx="406.56" cy="412.93" r="1.39" fill="none" stroke="#8a8a8a" stroke-width="0.7"/><circle cx="413.64" cy="405.67" r="3.08" fill="none" stroke="#8a8a8a" stroke-width="0.9"/><circle cx="413.64" cy="405.67" r="1.39" fill="none" stroke="#8a8a8a" stroke-width="0.7"/><circle cx="413.64" cy="412.93" r="3.08" fill="none" stroke="#8a8a8a" stroke-width="0.9"/><circle cx="413.64" cy="412.93" r="1.39" fill="none" stroke="#8a8a8a" stroke-width="0.7"/><rect x="364.9" y="365.2" width="11.6" height="45.4" rx="0" fill="none" stroke="#8a8a8a" stroke-width="0.8"/><circle cx="467.4" cy="258.9" r="6.1" fill="#fff" stroke="#b8242c" stroke-width="1.25"/><path transform="translate(467.4 258.9)" d="M2.2 -1.7 C1.3 -3.5 -2.4 -3.6 -2.4 0 C-2.4 3.6 1.3 3.5 2.2 1.7" fill="none" stroke="#b8242c" stroke-width="0.95" stroke-linejoin="round" stroke-linecap="butt"/><circle cx="491" cy="279.3" r="6.1" fill="#fff" stroke="#b8242c" stroke-width="1.25"/><path transform="translate(491 279.3)" d="M-2 -2.9 V2.9 H-0.2 C3.2 2.9 3.2 -2.9 -0.2 -2.9 Z" fill="none" stroke="#b8242c" stroke-width="0.95" stroke-linejoin="round" stroke-linecap="butt"/><circle cx="493.6" cy="344.4" r="6.1" fill="#fff" stroke="#b8242c" stroke-width="1.25"/><path transform="translate(493.6 344.4)" d="M-2.35 2.9 L0 -2.9 L2.35 2.9 M-1.45 0.9 H1.45" fill="none" stroke="#b8242c" stroke-width="0.95" stroke-linejoin="round" stroke-linecap="butt"/><circle cx="280" cy="368.4" r="6.1" fill="#fff" stroke="#b8242c" stroke-width="1.25"/><path transform="translate(280 368.4)" d="M-1.8 -2.9 V2.9 H0.5 C3 2.9 3 -0.1 0.5 -0.1 H-1.8 M0.5 -0.1 C2.6 -0.1 2.6 -2.9 0.3 -2.9 H-1.8" fill="none" stroke="#b8242c" stroke-width="0.95" stroke-linejoin="round" stroke-linecap="butt"/>
<g style="filter:grayscale(1)"><text x="288.7" y="49" textLength="42.6" lengthAdjust="spacingAndGlyphs" font-size="9.8" fill="#565656" stroke="#565656" stroke-width="0.2" font-weight="normal">DORMITORIO</text><text x="426.7" y="23.7" textLength="27.9" lengthAdjust="spacingAndGlyphs" font-size="9.8" fill="#565656" stroke="#565656" stroke-width="0.2" font-weight="normal">BALCON</text><text x="523.6" y="23.8" textLength="28.3" lengthAdjust="spacingAndGlyphs" font-size="9.8" fill="#565656" stroke="#565656" stroke-width="0.2" font-weight="normal">BALCON</text><text x="418.9" y="131.1" textLength="21.1" lengthAdjust="spacingAndGlyphs" font-size="9.8" fill="#565656" stroke="#565656" stroke-width="0.2" font-weight="normal">ESTAR</text><text x="418.9" y="139.9" textLength="35" lengthAdjust="spacingAndGlyphs" font-size="9.8" fill="#565656" stroke="#565656" stroke-width="0.2" font-weight="normal">COMEDOR</text><text x="515" y="131.3" textLength="34.3" lengthAdjust="spacingAndGlyphs" font-size="9.8" fill="#565656" stroke="#565656" stroke-width="0.2" font-weight="normal">AMBIENTE</text><text x="515" y="139.9" textLength="20.4" lengthAdjust="spacingAndGlyphs" font-size="9.8" fill="#565656" stroke="#565656" stroke-width="0.2" font-weight="normal">UNICO</text><text x="284.2" y="155.9" textLength="43.1" lengthAdjust="spacingAndGlyphs" font-size="9.8" fill="#565656" stroke="#565656" stroke-width="0.2" font-weight="normal">DORMITORIO</text><text x="415.4" y="230.9" textLength="25.7" lengthAdjust="spacingAndGlyphs" font-size="9.8" fill="#565656" stroke="#565656" stroke-width="0.2" font-weight="normal">COCINA</text><text x="528.3" y="227.7" textLength="25.7" lengthAdjust="spacingAndGlyphs" font-size="9.8" fill="#565656" stroke="#565656" stroke-width="0.2" font-weight="normal">COCINA</text><text x="523.1" y="355.8" textLength="25.8" lengthAdjust="spacingAndGlyphs" font-size="9.8" fill="#565656" stroke="#565656" stroke-width="0.2" font-weight="normal">COCINA</text><text x="300.6" y="408" textLength="21.3" lengthAdjust="spacingAndGlyphs" font-size="9.8" fill="#565656" stroke="#565656" stroke-width="0.2" font-weight="normal">ESTAR</text><text x="300.6" y="416.5" textLength="34.8" lengthAdjust="spacingAndGlyphs" font-size="9.8" fill="#565656" stroke="#565656" stroke-width="0.2" font-weight="normal">COMEDOR</text><text x="377.6" y="439" textLength="26.3" lengthAdjust="spacingAndGlyphs" font-size="9.8" fill="#565656" stroke="#565656" stroke-width="0.2" font-weight="normal">COCINA</text><text x="520.4" y="462" textLength="20.7" lengthAdjust="spacingAndGlyphs" font-size="9.8" fill="#565656" stroke="#565656" stroke-width="0.2" font-weight="normal">ESTAR</text><text x="520.4" y="470.5" textLength="34.9" lengthAdjust="spacingAndGlyphs" font-size="9.8" fill="#565656" stroke="#565656" stroke-width="0.2" font-weight="normal">COMEDOR</text><text x="286.1" y="514" textLength="42.8" lengthAdjust="spacingAndGlyphs" font-size="9.8" fill="#565656" stroke="#565656" stroke-width="0.2" font-weight="normal">DORMITORIO</text><text x="417.5" y="514" textLength="42.9" lengthAdjust="spacingAndGlyphs" font-size="9.8" fill="#565656" stroke="#565656" stroke-width="0.2" font-weight="normal">DORMITORIO</text><text x="317.1" y="574" textLength="27.9" lengthAdjust="spacingAndGlyphs" font-size="9.8" fill="#565656" stroke="#565656" stroke-width="0.2" font-weight="normal">BALCON</text><text x="415.4" y="575.7" textLength="27.8" lengthAdjust="spacingAndGlyphs" font-size="9.8" fill="#565656" stroke="#565656" stroke-width="0.2" font-weight="normal">BALCON</text><text x="512.4" y="549.4" textLength="27.6" lengthAdjust="spacingAndGlyphs" font-size="9.8" fill="#565656" stroke="#565656" stroke-width="0.2" font-weight="normal">BALCON</text></g>
</g>
</svg>
</body></html>
